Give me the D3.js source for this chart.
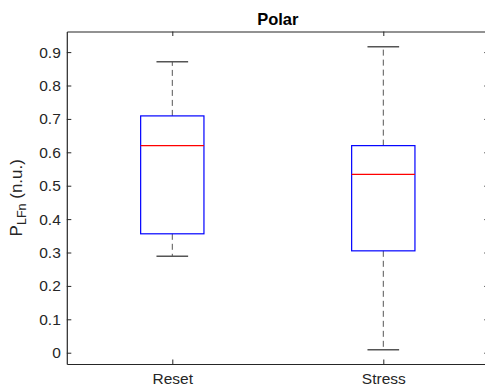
<!DOCTYPE html>
<html>
<head>
<meta charset="utf-8">
<script src="https://cdn.jsdelivr.net/npm/d3@7/dist/d3.min.js"></script>
<style>
  html, body { margin: 0; padding: 0; background: #fff; }
  svg { display: block; font-family: Arial, "Liberation Sans", sans-serif; }
</style>
</head>
<body>
<svg id="chart" width="485" height="387"></svg>
<script>
// Box statistics per condition
const categories = ["Reset", "Stress"];
const lowerWhisker = [0.289, 0.009];
const q1 = [0.356, 0.305];
const median = [0.620, 0.534];
const q3 = [0.709, 0.620];
const upperWhisker = [0.871, 0.916];
const yTicks = [0, 0.1, 0.2, 0.3, 0.4, 0.5, 0.6, 0.7, 0.8, 0.9];

const svg = d3.select("#chart");
const m = { left: 66.8, right: 488.8, top: 31.5, bottom: 364 };
const ink = "#262626";

const x = d3.scaleLinear().domain([0.5, 2.5]).range([m.left, m.right]);
const y = d3.scaleLinear().domain([-0.0338, 0.9617]).range([m.bottom, m.top]);

const boxW = 0.3, capW = 0.15;

// Axes frame with inward ticks
const gLeft = svg.append("g").attr("transform", `translate(${m.left},0)`)
  .call(d3.axisLeft(y).tickValues(yTicks).tickFormat(d3.format("")).tickSizeInner(-4.5).tickSizeOuter(0).tickPadding(6));
const gRight = svg.append("g").attr("transform", `translate(${m.right},0)`)
  .call(d3.axisRight(y).tickValues(yTicks).tickFormat("").tickSizeInner(-4.5).tickSizeOuter(0));
const gBottom = svg.append("g").attr("transform", `translate(0,${m.bottom})`)
  .call(d3.axisBottom(x).tickValues([1, 2]).tickFormat((d, i) => categories[i]).tickSizeInner(-4.5).tickSizeOuter(0).tickPadding(8.5));
const gTop = svg.append("g").attr("transform", `translate(0,${m.top})`)
  .call(d3.axisTop(x).tickValues([1, 2]).tickFormat("").tickSizeInner(-4.5).tickSizeOuter(0));

[gLeft, gRight, gBottom, gTop].forEach(g => {
  g.selectAll("path.domain").attr("stroke", ink).attr("stroke-width", 1.2);
  g.selectAll(".tick line").attr("stroke", ink).attr("stroke-width", 1);
  g.selectAll(".tick text").attr("fill", ink).attr("font-size", 15.5)
    .attr("font-family", "Arial, 'Liberation Sans', sans-serif");
});

// Boxes
const data = categories.map((c, i) => ({
  i: i + 1, lo: lowerWhisker[i], q1: q1[i], med: median[i], q3: q3[i], hi: upperWhisker[i]
}));

const g = svg.append("g");
const whiskerColor = "#555";

data.forEach(d => {
  // dashed whiskers
  g.append("line").attr("x1", x(d.i)).attr("x2", x(d.i))
    .attr("y1", y(d.q3)).attr("y2", y(d.hi))
    .attr("stroke", whiskerColor).attr("stroke-width", 1).attr("stroke-dasharray", "6,4");
  g.append("line").attr("x1", x(d.i)).attr("x2", x(d.i))
    .attr("y1", y(d.q1)).attr("y2", y(d.lo))
    .attr("stroke", whiskerColor).attr("stroke-width", 1).attr("stroke-dasharray", "6,4");
  // whisker caps
  [d.hi, d.lo].forEach(v => {
    g.append("line").attr("x1", x(d.i - capW / 2)).attr("x2", x(d.i + capW / 2))
      .attr("y1", y(v)).attr("y2", y(v))
      .attr("stroke", whiskerColor).attr("stroke-width", 1.5);
  });
  // box
  g.append("rect").attr("x", x(d.i - boxW / 2)).attr("y", y(d.q3))
    .attr("width", x(d.i + boxW / 2) - x(d.i - boxW / 2)).attr("height", y(d.q1) - y(d.q3))
    .attr("fill", "none").attr("stroke", "#0000ff").attr("stroke-width", 1.2);
  // median
  g.append("line").attr("x1", x(d.i - boxW / 2)).attr("x2", x(d.i + boxW / 2))
    .attr("y1", y(d.med)).attr("y2", y(d.med))
    .attr("stroke", "#ff0000").attr("stroke-width", 1.2);
});

// Title
svg.append("text").attr("x", (m.left + m.right) / 2).attr("y", 25)
  .attr("text-anchor", "middle").attr("font-size", 16.5).attr("font-weight", "bold")
  .attr("fill", "#000").text("Polar");

// Y label with subscript
const yl = svg.append("text")
  .attr("transform", `translate(22,${(m.top + m.bottom) / 2}) rotate(-90)`)
  .attr("text-anchor", "middle").attr("font-size", 17).attr("fill", ink);
yl.append("tspan").text("P");
yl.append("tspan").attr("font-size", 12.5).attr("dy", 4).text("LFn");
yl.append("tspan").attr("dy", -4).text(" (n.u.)");
</script>
</body>
</html>
